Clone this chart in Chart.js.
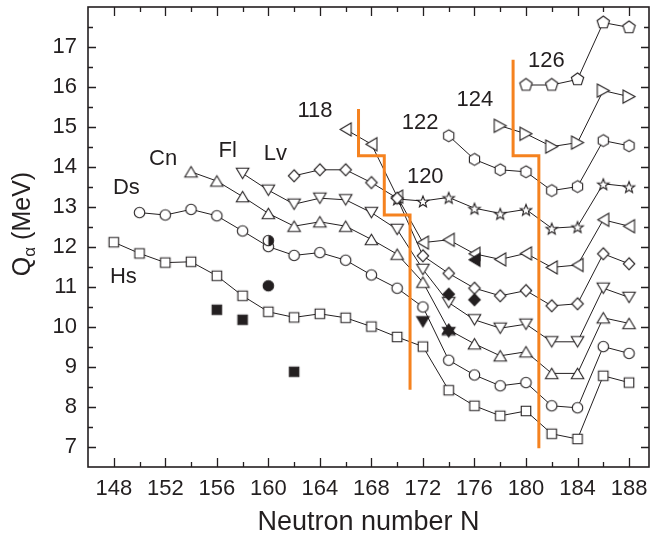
<!DOCTYPE html>
<html>
<head>
<meta charset="utf-8">
<script src="https://cdn.jsdelivr.net/npm/chart.js@4.4.1/dist/chart.umd.min.js"></script>
<style>
html,body{margin:0;padding:0;background:#ffffff;}
#wrap{width:656px;height:544px;}
</style>
</head>
<body>
<div id="wrap"><canvas id="c" width="656" height="544"></canvas></div>
<script>
// ---------- data ----------
const xTickVals = [148,152,156,160,164,168,172,176,180,184,188];
const yTickVals = [7,8,9,10,11,12,13,14,15,16,17];

const nHs  = [148,150,152,154,156,158,160,162,164,166,168,170,172,174,176,178,180,182,184,186,188];
const qHs  = [12.12,11.84,11.61,11.63,11.28,10.78,10.38,10.24,10.33,10.23,10.01,9.75,9.51,8.42,8.03,7.78,7.90,7.33,7.20,8.78,8.61];

const nDs  = [150,152,154,156,158,160,162,164,166,168,170,172,174,176,178,180,182,184,186,188];
const qDs  = [12.86,12.80,12.94,12.78,12.40,12.01,11.79,11.86,11.67,11.30,10.97,10.50,9.17,8.80,8.53,8.61,8.03,7.98,9.51,9.34];

const nCn  = [154,156,158,160,162,164,166,168,170,172,174,176,178,180,182,184,186,188];
const qCn  = [13.88,13.65,13.26,12.84,12.52,12.63,12.52,12.19,11.82,11.12,9.93,9.58,9.28,9.38,8.84,8.84,10.23,10.09];

const nFl  = [158,160,162,164,166,168,170,172,174,176,178,180,182,184,186,188];
const qFl  = [13.84,13.42,13.07,13.22,13.18,12.86,12.44,11.44,10.61,10.18,9.97,10.07,9.63,9.63,10.97,10.74];

const nLv  = [162,164,166,168,170,172,174,176,178,180,182,184,186,188];
const qLv  = [13.78,13.93,13.93,13.61,13.22,11.78,11.34,10.97,10.78,10.91,10.53,10.58,11.83,11.58];

const n118 = [166,168,170,172,174,176,178,180,182,184,186,188];
const q118 = [14.94,14.57,13.26,12.11,12.18,11.83,11.69,11.84,11.49,11.55,12.68,12.52];

const n120 = [170,172,174,176,178,180,182,184,186,188];
const q120 = [13.20,13.15,13.24,12.97,12.84,12.94,12.47,12.51,13.58,13.51];

const n122 = [174,176,178,180,182,184,186,188];
const q122 = [14.78,14.19,13.93,13.88,13.41,13.51,14.66,14.53];

const n124 = [178,180,182,184,186,188];
const q124 = [15.03,14.83,14.51,14.61,15.91,15.76];

const n126 = [180,182,184,186,188];
const q126 = [16.05,16.05,16.19,17.61,17.49];

// experimental (filled) points
const nExpSquare  = [156,158,162];
const qExpSquare  = [10.43,10.18,8.88];
const nExpCircle  = [160];
const qExpCircle  = [11.03];
const nExpHalf    = [160];
const qExpHalf    = [12.16];
const nExpDown    = [172];
const qExpDown    = [10.13];
const nExpDavid   = [174];
const qExpDavid   = [9.91];
const nExpDiamond = [174,176];
const qExpDiamond = [10.82,10.68];
const nExpLeft    = [176];
const qExpLeft    = [11.68];

// shell-closure step lines
const nStep1 = [167,167,169,169,171,171];
const qStep1 = [15.45,14.28,14.28,12.80,12.80,8.43];
const nStep2 = [179,179,181,181];
const qStep2 = [16.68,14.28,14.28,6.97];

// in-plot labels
const labelText = ['Hs','Ds','Cn','Fl','Lv','118','120','122','124','126'];
const labelN    = [148.75,148.98,151.83,156.84,160.54,163.62,172.18,171.79,176.03,181.58];
const labelQ    = [11.25,13.47,14.20,14.40,14.32,15.40,13.75,15.10,15.67,16.65];

// ---------- styling ----------
const INK = '#231f20';
const ORANGE = '#f5821f';
const FONT = '"Liberation Sans", Arial, Helvetica, sans-serif';

function marker(shape, filled, w, h) {
  const pad = 2;
  const W = Math.ceil(w) + pad * 2, H = Math.ceil(h) + pad * 2;
  const c = document.createElement('canvas');
  c.width = W; c.height = H;
  const g = c.getContext('2d');
  const cx = W / 2, cy = H / 2;
  g.lineWidth = 1.1;
  g.strokeStyle = INK;
  g.fillStyle = filled ? INK : '#ffffff';
  g.lineJoin = 'miter';
  const poly = (pts) => { g.beginPath(); pts.forEach((p, i) => i ? g.lineTo(p[0], p[1]) : g.moveTo(p[0], p[1])); g.closePath(); };
  const reg = (n, R, rot) => { const pts = []; for (let k = 0; k < n; k++) { const a = rot + k * 2 * Math.PI / n; pts.push([cx + R * Math.cos(a), cy + R * Math.sin(a)]); } return pts; };
  switch (shape) {
    case 'square': poly([[cx-w/2,cy-h/2],[cx+w/2,cy-h/2],[cx+w/2,cy+h/2],[cx-w/2,cy+h/2]]); break;
    case 'circle': g.beginPath(); g.arc(cx, cy, w/2, 0, Math.PI*2); break;
    case 'up': poly([[cx,cy-h/2],[cx+w/2,cy+h/2],[cx-w/2,cy+h/2]]); break;
    case 'down': poly([[cx,cy+h/2],[cx+w/2,cy-h/2],[cx-w/2,cy-h/2]]); break;
    case 'left': poly([[cx-w/2,cy],[cx+w/2,cy-h/2],[cx+w/2,cy+h/2]]); break;
    case 'right': poly([[cx+w/2,cy],[cx-w/2,cy-h/2],[cx-w/2,cy+h/2]]); break;
    case 'diamond': poly([[cx,cy-h/2],[cx+w/2,cy],[cx,cy+h/2],[cx-w/2,cy]]); break;
    case 'pentagon': poly(reg(5, w/2, -Math.PI/2)); break;
    case 'hexagon': poly(reg(6, h/2, -Math.PI/2)); break;
    case 'star': {
      const pts = [];
      for (let k = 0; k < 10; k++) { const R = k % 2 ? w/2*0.42 : w/2; const a = -Math.PI/2 + k*Math.PI/5; pts.push([cx + R*Math.cos(a), cy + 1 + R*Math.sin(a)]); }
      poly(pts); break;
    }
    case 'half': {
      g.beginPath(); g.arc(cx, cy, w/2, 0, Math.PI*2); g.fillStyle = '#ffffff'; g.fill();
      g.beginPath(); g.moveTo(cx, cy - w/2); g.arc(cx, cy, w/2, -Math.PI/2, Math.PI/2); g.closePath(); g.fillStyle = INK; g.fill();
      g.beginPath(); g.arc(cx, cy, w/2, 0, Math.PI*2); g.stroke();
      return c;
    }
    case 'david': {
      g.fillStyle = INK;
      poly([[cx,cy-h/2],[cx+w/2,cy+h/4],[cx-w/2,cy+h/4]]); g.fill(); g.stroke();
      poly([[cx,cy+h/2],[cx+w/2,cy-h/4],[cx-w/2,cy-h/4]]); g.fill(); g.stroke();
      return c;
    }
  }
  g.fill(); g.stroke();
  return c;
}

const pts = (ns, qs) => ns.map((n, i) => ({x: n, y: qs[i]}));

function series(ns, qs, style) {
  return { data: pts(ns, qs), showLine: true, borderColor: INK, borderWidth: 1, pointStyle: style, pointRadius: 6, order: 2 };
}
function exp(ns, qs, style) {
  return { data: pts(ns, qs), showLine: false, pointStyle: style, pointRadius: 6, order: 0 };
}
function step(ns, qs) {
  return { data: pts(ns, qs), showLine: true, borderColor: ORANGE, borderWidth: 3, pointRadius: 0, order: 1, borderCapStyle: 'butt', borderJoinStyle: 'miter' };
}

const datasets = [
  series(nHs, qHs, marker('square', false, 9.5, 9.5)),
  series(nDs, qDs, marker('circle', false, 10.5, 10.5)),
  series(nCn, qCn, marker('up', false, 12.5, 10.5)),
  series(nFl, qFl, marker('down', false, 12.5, 10.5)),
  series(nLv, qLv, marker('diamond', false, 11.5, 12)),
  series(n118, q118, marker('left', false, 11, 13)),
  series(n120, q120, marker('star', false, 12, 12)),
  series(n122, q122, marker('hexagon', false, 10.3, 11.8)),
  series(n124, q124, marker('right', false, 12, 13)),
  series(n126, q126, marker('pentagon', false, 13, 13)),
  step(nStep1, qStep1),
  step(nStep2, qStep2),
  exp(nExpSquare, qExpSquare, marker('square', true, 9.5, 9.5)),
  exp(nExpCircle, qExpCircle, marker('circle', true, 10.5, 10.5)),
  exp(nExpHalf, qExpHalf, marker('half', true, 10.5, 10.5)),
  exp(nExpDown, qExpDown, marker('down', true, 12.5, 10.5)),
  exp(nExpDavid, qExpDavid, marker('david', true, 12.5, 13)),
  exp(nExpDiamond, qExpDiamond, marker('diamond', true, 11.5, 12)),
  exp(nExpLeft, qExpLeft, marker('left', true, 11, 13)),
];

const frame = {
  id: 'frame',
  afterDatasetsDraw(chart) {
    const {ctx, chartArea: a, scales: {x, y}} = chart;
    ctx.save();
    // ticks (inward, mirrored on all four sides)
    ctx.strokeStyle = INK;
    ctx.lineWidth = 1.3;
    ctx.beginPath();
    const MAJ = 9, MIN = 5;
    for (let v = 148; v <= 188; v += 2) {
      const len = (v - 148) % 4 === 0 ? MAJ : MIN;
      const px = Math.round(x.getPixelForValue(v)) + 0.5;
      ctx.moveTo(px, a.bottom); ctx.lineTo(px, a.bottom - len);
      ctx.moveTo(px, a.top); ctx.lineTo(px, a.top + len);
    }
    for (let v = 7; v <= 17.5; v += 0.5) {
      const len = Number.isInteger(v) ? MAJ - 1 : MIN;
      const py = Math.round(y.getPixelForValue(v)) + 0.5;
      ctx.moveTo(a.left, py); ctx.lineTo(a.left + len, py);
      ctx.moveTo(a.right, py); ctx.lineTo(a.right - len, py);
    }
    ctx.stroke();
    // frame
    ctx.lineWidth = 1.6;
    ctx.strokeRect(a.left, a.top, a.right - a.left, a.bottom - a.top);

    // in-plot labels
    ctx.fillStyle = INK;
    ctx.font = '22px ' + FONT;
    ctx.textAlign = 'center';
    ctx.textBaseline = 'middle';
    labelText.forEach((t, i) => ctx.fillText(t, x.getPixelForValue(labelN[i]), y.getPixelForValue(labelQ[i])));

    // y-axis title: Q_alpha (MeV), rotated
    ctx.translate(30, 224);
    ctx.rotate(-Math.PI / 2);
    ctx.textAlign = 'left';
    ctx.textBaseline = 'alphabetic';
    const big = '25px ' + FONT, small = '17px ' + FONT;
    ctx.font = big; const wQ = ctx.measureText('Q').width;
    ctx.font = small; const wA = ctx.measureText('\u03b1').width;
    ctx.font = big; const wM = ctx.measureText(' (MeV)').width;
    let sx = -(wQ + wA + wM) / 2;
    ctx.font = big; ctx.fillText('Q', sx, 0); sx += wQ;
    ctx.font = small; ctx.fillText('\u03b1', sx, 5); sx += wA;
    ctx.font = big; ctx.fillText(' (MeV)', sx, 0);
    ctx.restore();
  }
};

Chart.defaults.font.family = FONT;
Chart.defaults.color = INK;

new Chart(document.getElementById('c'), {
  type: 'scatter',
  data: { datasets },
  options: {
    responsive: false,
    devicePixelRatio: 1,
    animation: false,
    events: [],
    layout: { padding: { top: 7, right: 3, left: 0, bottom: 0 } },
    plugins: { legend: { display: false }, tooltip: { enabled: false } },
    scales: {
      x: {
        type: 'linear', min: 146, max: 189.55,
        grid: { display: false, drawTicks: false },
        border: { display: false },
        afterBuildTicks: s => { s.ticks = xTickVals.map(v => ({ value: v })); },
        afterFit: s => { s.height = 77; s.paddingLeft = 0; s.paddingRight = 0; },
        ticks: { font: { size: 22 }, color: INK, padding: 9, maxRotation: 0, autoSkip: false },
        title: { display: true, text: 'Neutron number N', font: { size: 27 }, color: INK, padding: { top: 0, bottom: 5 } }
      },
      y: {
        type: 'linear', min: 6.5, max: 18,
        grid: { display: false, drawTicks: false },
        border: { display: false },
        afterBuildTicks: s => { s.ticks = yTickVals.map(v => ({ value: v })); },
        afterFit: s => { s.width = 88; s.paddingTop = 0; s.paddingBottom = 0; },
        ticks: { font: { size: 22 }, color: INK, padding: 11, autoSkip: false }
      }
    }
  },
  plugins: [frame]
});
</script>
</body>
</html>
